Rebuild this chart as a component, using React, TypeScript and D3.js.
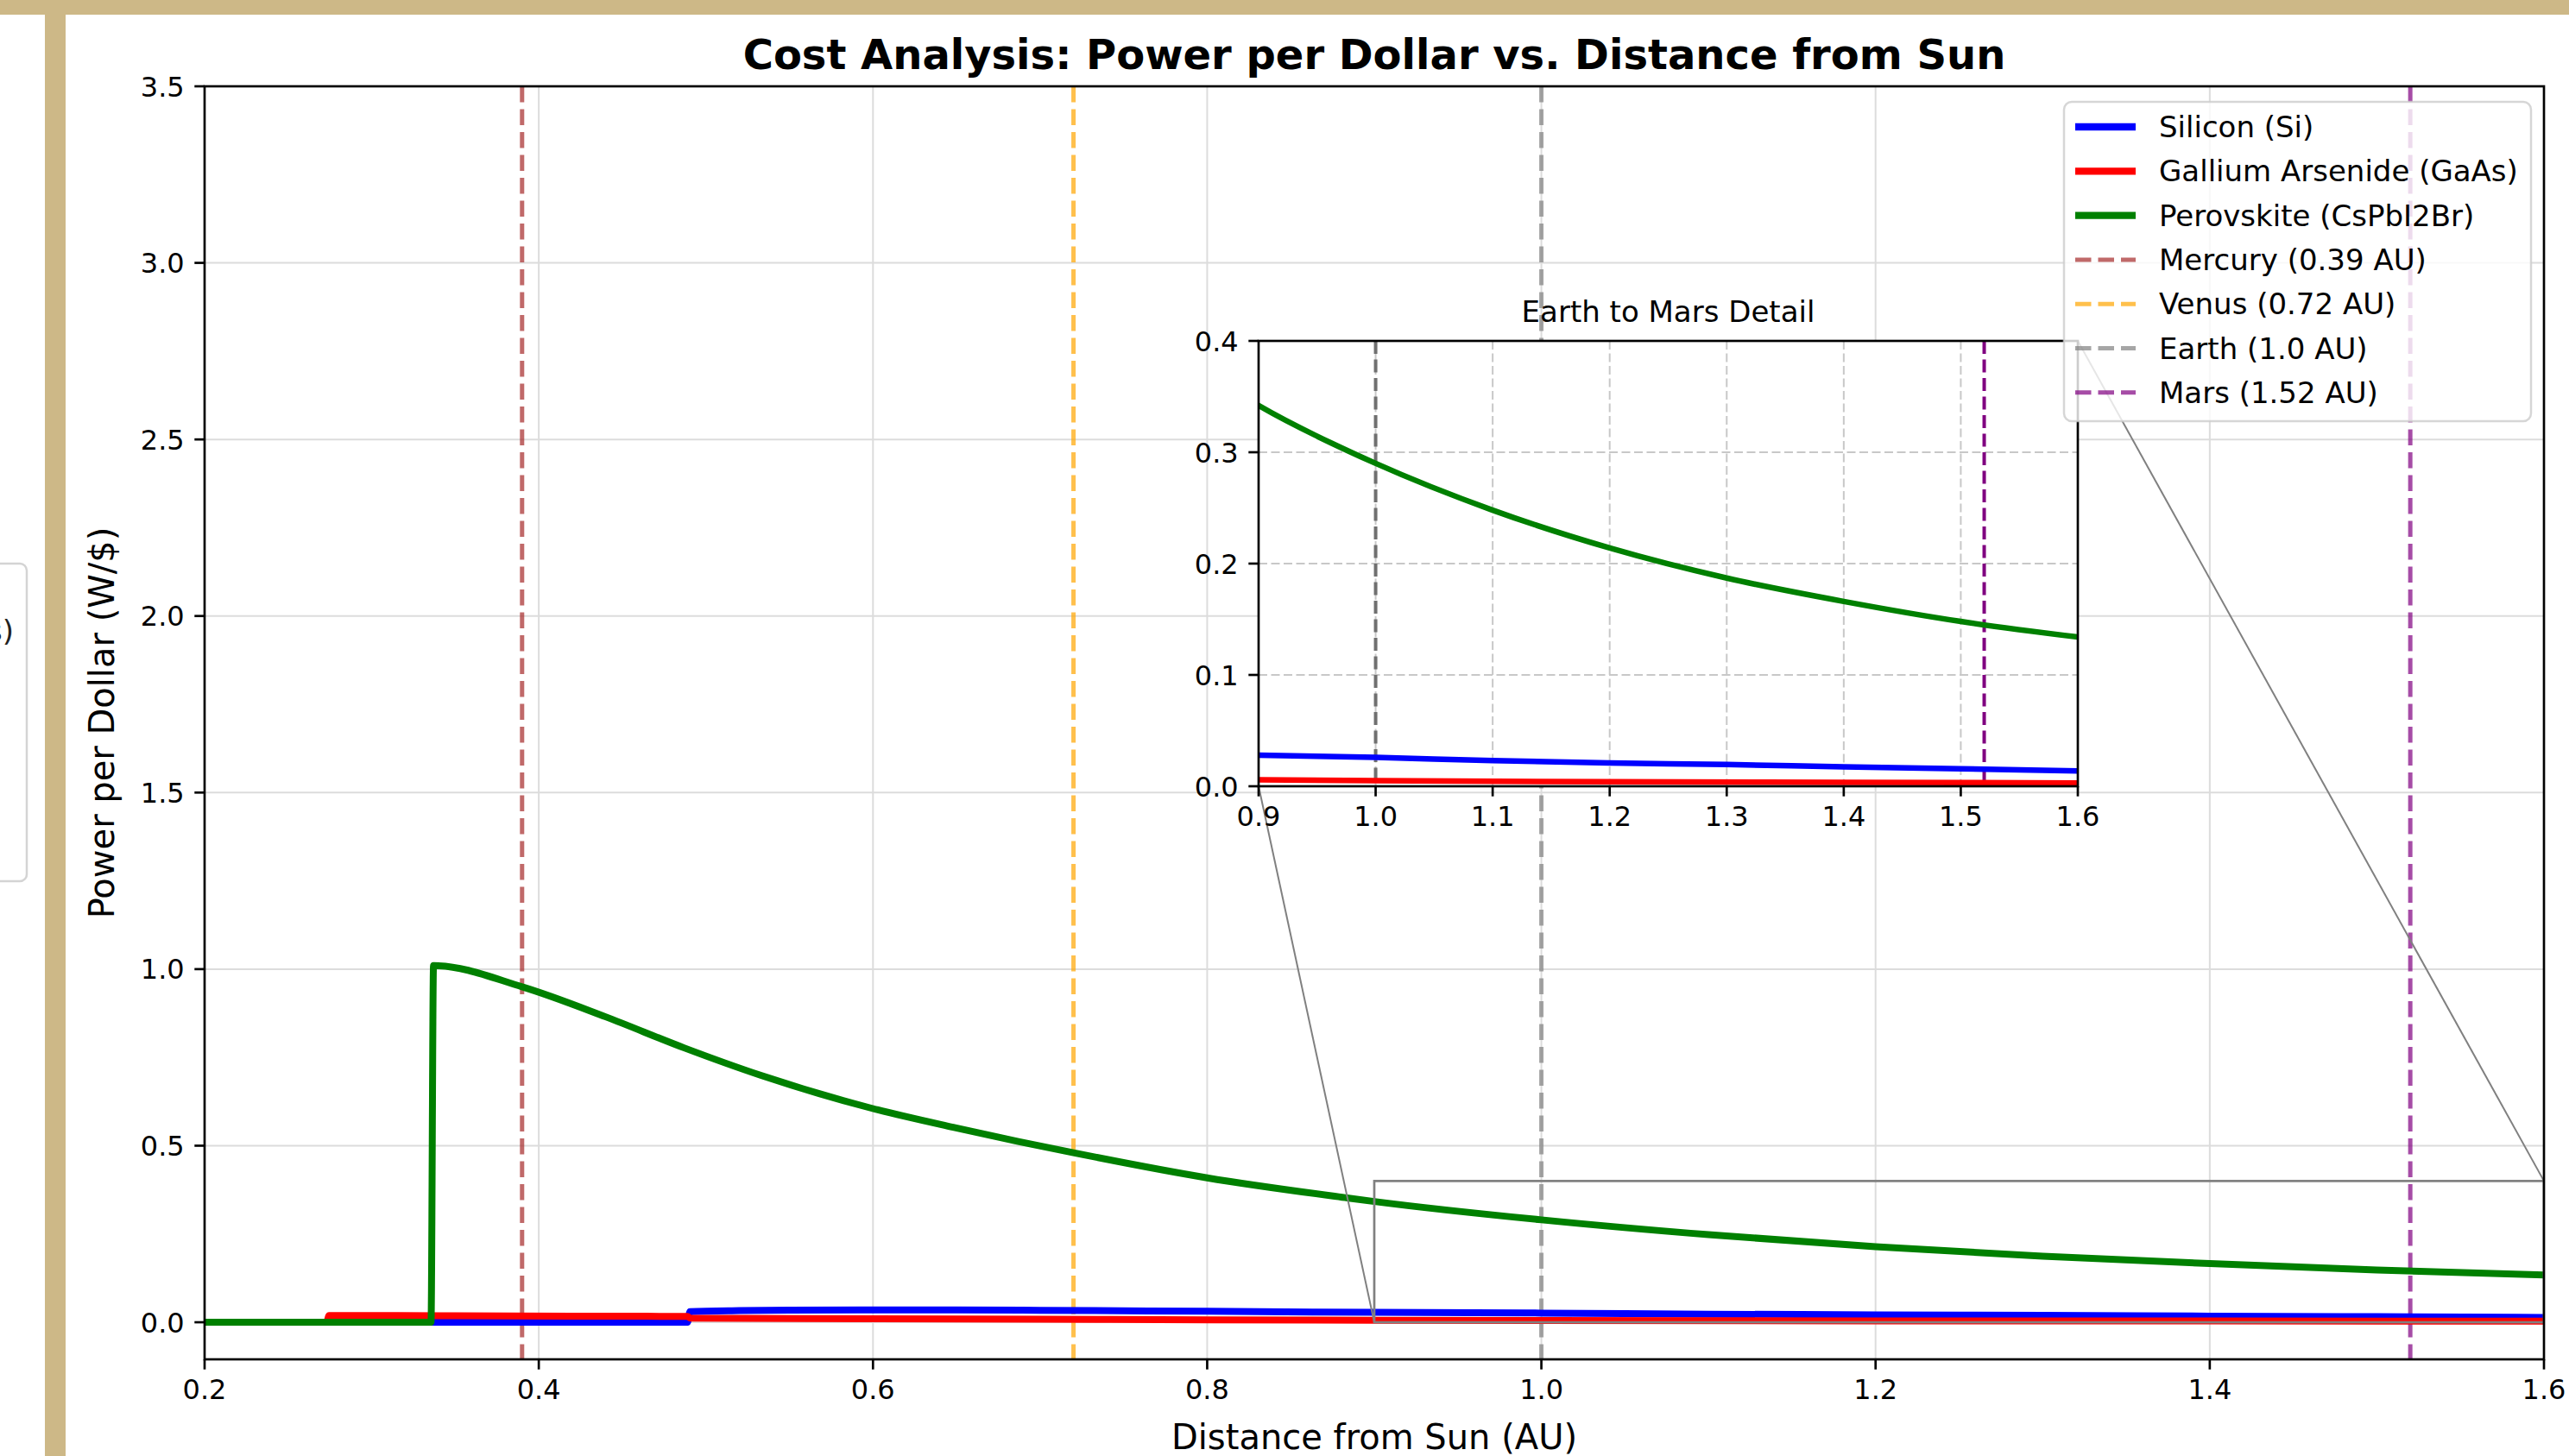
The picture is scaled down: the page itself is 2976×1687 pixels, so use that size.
import React from "react";
import * as d3 from "d3";

// ---------- data ----------
const siliconX = [0.2, 0.489, 0.4905, 0.52, 0.55, 0.6, 0.65, 0.7, 0.8, 0.9, 1.0, 1.1, 1.2, 1.3, 1.4, 1.5, 1.6];
const siliconY = [0, 0, 0.030, 0.033, 0.0345, 0.035, 0.035, 0.034, 0.031, 0.028, 0.026, 0.023, 0.021, 0.0195, 0.0175, 0.0157, 0.0138];

const gaasX = [0.2, 0.273, 0.2745, 0.35, 0.42, 0.489, 0.4905, 0.6, 0.7, 0.8, 0.9, 1.0, 1.2, 1.4, 1.6];
const gaasY = [0, 0, 0.019, 0.0185, 0.0175, 0.0165, 0.012, 0.010, 0.0085, 0.007, 0.0058, 0.005, 0.004, 0.0035, 0.003];

const perovX = [0.2, 0.3355, 0.337, 0.39, 0.44, 0.487, 0.533, 0.6, 0.648, 0.687, 0.72, 0.8, 0.884, 0.9, 1.0, 1.1, 1.2, 1.3, 1.4, 1.5, 1.6];
const perovY = [0, 0, 1.01, 0.95, 0.865, 0.777, 0.699, 0.605, 0.552, 0.512, 0.48, 0.409, 0.352, 0.342, 0.29, 0.248, 0.214, 0.187, 0.166, 0.148, 0.134];

const seriesNames = ["Silicon (Si)", "Gallium Arsenide (GaAs)", "Perovskite (CsPbI2Br)"];
const seriesColors = ["#0000ff", "#ff0000", "#008000"];

const planetNames = ["Mercury (0.39 AU)", "Venus (0.72 AU)", "Earth (1.0 AU)", "Mars (1.52 AU)"];
const planetAU = [0.39, 0.72, 1.0, 1.52];
const planetColors = ["#a52a2a", "#ffa500", "#808080", "#800080"];

const xTicks = [0.2, 0.4, 0.6, 0.8, 1.0, 1.2, 1.4, 1.6];
const yTicks = [0, 0.5, 1.0, 1.5, 2.0, 2.5, 3.0, 3.5];
const insetXTicks = [0.9, 1.0, 1.1, 1.2, 1.3, 1.4, 1.5, 1.6];
const insetYTicks = [0, 0.1, 0.2, 0.3, 0.4];
const insetPlanets = [1.0, 1.52];
const insetPlanetColors = ["#707070", "#800080"];

const title = "Cost Analysis: Power per Dollar vs. Distance from Sun";
const xLabel = "Distance from Sun (AU)";
const yLabel = "Power per Dollar (W/$)";
const insetTitle = "Earth to Mars Detail";

const FONT = "DejaVu Sans, Verdana, sans-serif";

export default function App() {
  const W = 2976, H = 1687;
  const L = 237, R = 2947, T = 100, B = 1575;
  const x = d3.scaleLinear().domain([0.2, 1.6]).range([L, R]);
  const y = d3.scaleLinear().domain([-0.105, 3.5]).range([B, T]);

  const iL = 1458, iR = 2407, iT = 395, iB = 911;
  const ix = d3.scaleLinear().domain([0.9, 1.6]).range([iL, iR]);
  const iy = d3.scaleLinear().domain([0, 0.4]).range([iB, iT]);

  const series = [
    { xs: siliconX, ys: siliconY },
    { xs: gaasX, ys: gaasY },
    { xs: perovX, ys: perovY },
  ];

  const mainLine = d3.line<number>().curve(d3.curveMonotoneX);
  const pathFor = (s: { xs: number[]; ys: number[] }, sx: any, sy: any) =>
    mainLine(s.xs.map((v, i) => [sx(v), sy(s.ys[i])] as any) as any) || "";

  const fmt = d3.format(".1f");
  const tickLen = 11.7;
  const tickFont = 32;

  // legend
  const legX = 2391, legY = 118, legW = 541, legH = 370;
  const rowY = (i: number) => 147 + i * 51.3;
  const legendItems = [
    ...seriesNames.map((n, i) => ({ name: n, color: seriesColors[i], dashed: false, op: 1 })),
    ...planetNames.map((n, i) => ({ name: n, color: planetColors[i], dashed: true, op: 0.7 })),
  ];

  return (
    <svg
      width={W}
      height={H}
      viewBox={`0 0 ${W} ${H}`}
      style={{ position: "absolute", left: 0, top: 0, background: "#fff" }}
      fontFamily={FONT}
    >
      <defs>
        <clipPath id="mainClip">
          <rect x={L} y={T} width={R - L} height={B - T} />
        </clipPath>
        <clipPath id="insetClip">
          <rect x={iL} y={iT} width={iR - iL} height={iB - iT} />
        </clipPath>
      </defs>
      <rect x={0} y={0} width={W} height={H} fill="#ffffff" />

      {/* partial neighbour legend on far left */}
      <rect x={-300} y={653} width={331} height={368} rx={8} fill="#fff" stroke="#d4d4d4" strokeWidth={2.5} />
      <text x={16} y={743} fontSize={34} textAnchor="end" fill="#222">s)</text>

      {/* beige frame */}
      <rect x={0} y={0} width={W} height={17} fill="#cdb887" />
      <rect x={52} y={0} width={24} height={H} fill="#cdb887" />

      {/* title */}
      <text x={(L + R) / 2} y={80} fontSize={48} fontWeight="bold" textAnchor="middle" fill="#000">{title}</text>

      {/* grid */}
      <g stroke="#dcdcdc" strokeWidth={2}>
        {xTicks.map((t) => (
          <line key={"gx" + t} x1={x(t)} x2={x(t)} y1={T} y2={B} />
        ))}
        {yTicks.map((t) => (
          <line key={"gy" + t} x1={L} x2={R} y1={y(t)} y2={y(t)} />
        ))}
      </g>

      {/* planet lines + series */}
      <g clipPath="url(#mainClip)">
        {planetAU.map((p, i) => (
          <line
            key={"p" + i}
            x1={x(p)}
            x2={x(p)}
            y1={T}
            y2={B}
            stroke={planetColors[i]}
            strokeOpacity={0.7}
            strokeWidth={5}
            strokeDasharray="18.5,8"
          />
        ))}
        {series.map((s, i) => (
          <path key={"s" + i} d={pathFor(s, x, y)} fill="none" stroke={seriesColors[i]} strokeWidth={8} strokeLinejoin="round" />
        ))}
        {/* zoom indicator */}
        <rect x={x(0.9)} y={y(0.4)} width={x(1.6) - x(0.9)} height={y(0) - y(0.4)} fill="none" stroke="#808080" strokeWidth={2.7} />
      </g>
      <line x1={x(0.9)} y1={y(0)} x2={iL} y2={iB} stroke="#808080" strokeWidth={2} />
      <line x1={x(1.6)} y1={y(0.4)} x2={iR} y2={iT} stroke="#808080" strokeWidth={2} />

      {/* main axes frame */}
      <rect x={L} y={T} width={R - L} height={B - T} fill="none" stroke="#000" strokeWidth={2.67} />
      <g stroke="#000" strokeWidth={2.67}>
        {xTicks.map((t) => (
          <line key={"tx" + t} x1={x(t)} x2={x(t)} y1={B} y2={B + tickLen} />
        ))}
        {yTicks.map((t) => (
          <line key={"ty" + t} x1={L - tickLen} x2={L} y1={y(t)} y2={y(t)} />
        ))}
      </g>
      <g fontSize={tickFont} fill="#000">
        {xTicks.map((t) => (
          <text key={"lx" + t} x={x(t)} y={B + 23.3 + 23} textAnchor="middle">{fmt(t)}</text>
        ))}
        {yTicks.map((t) => (
          <text key={"ly" + t} x={L - 23.3} y={y(t) + 11.5} textAnchor="end">{fmt(t)}</text>
        ))}
      </g>
      <text x={(L + R) / 2} y={1679} fontSize={40} textAnchor="middle" fill="#000">{xLabel}</text>
      <text transform={`translate(132, ${(T + B) / 2}) rotate(-90)`} fontSize={40} textAnchor="middle" fill="#000">{yLabel}</text>

      {/* inset */}
      <rect x={iL} y={iT} width={iR - iL} height={iB - iT} fill="#fff" />
      <g stroke="#c8c8c8" strokeWidth={2} strokeDasharray="10,4.5">
        {insetXTicks.map((t) => (
          <line key={"igx" + t} x1={ix(t)} x2={ix(t)} y1={iT} y2={iB} />
        ))}
        {insetYTicks.map((t) => (
          <line key={"igy" + t} x1={iL} x2={iR} y1={iy(t)} y2={iy(t)} />
        ))}
      </g>
      <g clipPath="url(#insetClip)">
        {insetPlanets.map((p, i) => (
          <line
            key={"ip" + i}
            x1={ix(p)}
            x2={ix(p)}
            y1={iT}
            y2={iB}
            stroke={insetPlanetColors[i]}
            strokeWidth={4}
            strokeDasharray="15,6.5"
          />
        ))}
        {series.map((s, i) => (
          <path key={"is" + i} d={pathFor(s, ix, iy)} fill="none" stroke={seriesColors[i]} strokeWidth={6.5} strokeLinejoin="round" />
        ))}
      </g>
      <rect x={iL} y={iT} width={iR - iL} height={iB - iT} fill="none" stroke="#000" strokeWidth={2.67} />
      <g stroke="#000" strokeWidth={2.67}>
        {insetXTicks.map((t) => (
          <line key={"itx" + t} x1={ix(t)} x2={ix(t)} y1={iB} y2={iB + tickLen} />
        ))}
        {insetYTicks.map((t) => (
          <line key={"ity" + t} x1={iL - tickLen} x2={iL} y1={iy(t)} y2={iy(t)} />
        ))}
      </g>
      <g fontSize={tickFont} fill="#000">
        {insetXTicks.map((t) => (
          <text key={"ilx" + t} x={ix(t)} y={iB + 23.3 + 23} textAnchor="middle">{fmt(t)}</text>
        ))}
        {insetYTicks.map((t) => (
          <text key={"ily" + t} x={iL - 23.3} y={iy(t) + 11.5} textAnchor="end">{fmt(t)}</text>
        ))}
      </g>
      <text x={(iL + iR) / 2} y={373} fontSize={34} textAnchor="middle" fill="#000">{insetTitle}</text>

      {/* legend */}
      <rect x={legX} y={legY} width={legW} height={legH} rx={9} fill="#fff" fillOpacity={0.8} stroke="#cccccc" strokeOpacity={0.8} strokeWidth={2.5} />
      {legendItems.map((it, i) => (
        <g key={"leg" + i}>
          <line
            x1={2404}
            x2={2474}
            y1={rowY(i)}
            y2={rowY(i)}
            stroke={it.color}
            strokeOpacity={it.op}
            strokeWidth={it.dashed ? 5 : 8.3}
            strokeDasharray={it.dashed ? "18.5,8" : undefined}
          />
          <text x={2501} y={rowY(i) + 12} fontSize={34} fill="#000">{it.name}</text>
        </g>
      ))}
    </svg>
  );
}
